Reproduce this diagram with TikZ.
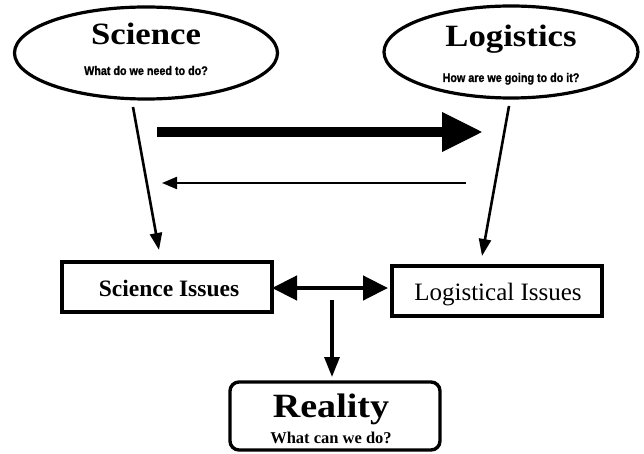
\documentclass[tikz,border=0pt]{standalone}
\usepackage{fontspec}
\setmainfont{Liberation Serif}
\newfontfamily\titlefont[FakeStretch=1.12]{Liberation Serif}
\newfontfamily\subfont[FakeStretch=0.86,FakeBold=1.2]{Liberation Sans}
\usetikzlibrary{arrows.meta,shapes.geometric}
\tikzset{
  oval/.style={draw, ellipse, line width=3.2pt, minimum width=#1, minimum height=92pt, inner sep=0pt},
  issuebox/.style={draw, rectangle, line width=3.4pt, minimum width=210pt, minimum height=50pt, inner sep=0pt},
  realbox/.style={draw, rectangle, rounded corners=9pt, line width=3.4pt, minimum width=210pt, minimum height=68pt, inner sep=0pt},
  title/.style={anchor=base, inner sep=0pt, font=\titlefont\bfseries\fontsize{31}{31}\selectfont},
  subtitle/.style={anchor=base, inner sep=0pt, font=\subfont\bfseries\fontsize{12.5}{12.5}\selectfont},
  slim/.style={line width=2.6pt, -{Triangle[length=17pt,width=12pt]}},
  thin/.style={line width=2.2pt, -{Triangle[length=15pt,width=12pt]}},
  fat/.style={line width=10pt, -{Triangle[length=41pt,width=37pt]}},
  mid/.style={line width=4.5pt, {Triangle[length=25pt,width=24pt]}-{Triangle[length=25pt,width=24pt]}},
  down/.style={line width=3.2pt, -{Triangle[length=20pt,width=15pt]}},
}
\begin{document}
\begin{tikzpicture}[x=1pt,y=-1pt]
\useasboundingbox (0,0) rectangle (644,454);
% ellipses
\node[oval=263pt] (sci) at (146,53) {};
\node[oval=254pt] (log) at (511,52) {};
\node[title] (scit) at (146,45) {Science};
\node[subtitle] (scis) at (146,75) {What do we need to do?};
\node[title] (logt) at (511,47) {Logistics};
\node[subtitle] (logs) at (511,82) {How are we going to do it?};
% boxes
\node[issuebox] (sciiss) at (167,287) {};
\node[anchor=base, inner sep=0pt, font=\bfseries\fontsize{23.5}{23.5}\selectfont] (sciisst) at (169,296) {Science Issues};
\node[issuebox] (logiss) at (497,291) {};
\node[anchor=base, inner sep=0pt, font=\fontsize{25}{25}\selectfont] (logisst) at (498,300) {Logistical Issues};
\node[realbox] (real) at (335,416) {};
\node[anchor=base, inner sep=0pt, font=\titlefont\bfseries\fontsize{34}{34}\selectfont] (realt) at (331,417) {Reality};
\node[anchor=base, inner sep=0pt, font=\bfseries\fontsize{16.5}{16.5}\selectfont] (reals) at (331,443) {What can we do?};
% connector coordinates
\coordinate (a1) at (133,107);
\coordinate (a2) at (159,250);
\coordinate (b1) at (509,106);
\coordinate (b2) at (482,256);
\coordinate (c1) at (157,132);
\coordinate (c2) at (483,132);
\coordinate (d1) at (466,183);
\coordinate (d2) at (162,183);
\coordinate (e1) at (272,288);
\coordinate (e2) at (388,288);
\coordinate (f1) at (332,300);
\coordinate (f2) at (332,377);
\draw[slim] (a1) -- (a2);
\draw[slim] (b1) -- (b2);
\draw[fat] (c1) -- (c2);
\draw[thin] (d1) -- (d2);
\draw[mid] (e1) -- (e2);
\draw[down] (f1) -- (f2);
\end{tikzpicture}
\end{document}
